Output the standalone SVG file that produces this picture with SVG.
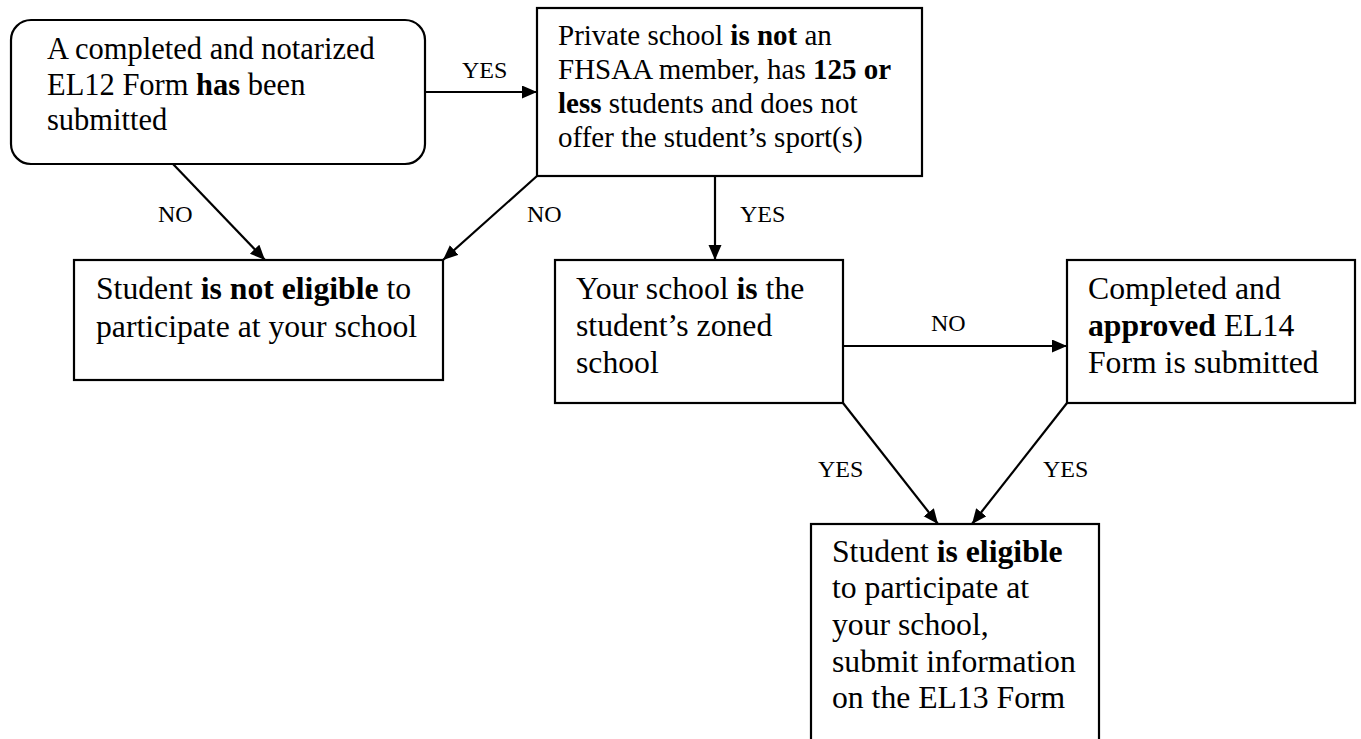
<svg xmlns="http://www.w3.org/2000/svg" width="1361" height="739" viewBox="0 0 1361 739">
<defs>
<style>
.box{fill:#fff;stroke:#000;stroke-width:2.2}
.t{font-family:"Liberation Serif","Times New Roman",serif;fill:#000}
.t1{font-size:30.5px}
.t2{font-size:29px}
.t3{font-size:31.7px}
.lbl{font-family:"Liberation Serif","Times New Roman",serif;font-size:24px;fill:#000}
.b{font-weight:bold}
.c{stroke:#000;stroke-width:2.2;fill:none;marker-end:url(#ah)}
</style>
<marker id="ah" markerUnits="userSpaceOnUse" markerWidth="16" markerHeight="14" refX="15" refY="6.5" orient="auto">
<path d="M0,0 L15,6.5 L0,13 z" fill="#000"/>
</marker>
</defs>
<rect width="1361" height="739" fill="#fff"/>
<g id="connectors">
<line class="c" x1="425" y1="92" x2="537" y2="92"/>
<line class="c" x1="173" y1="164" x2="265" y2="260"/>
<line class="c" x1="537" y1="176" x2="443" y2="260"/>
<line class="c" x1="715" y1="176" x2="715" y2="260"/>
<line class="c" x1="843" y1="346" x2="1067" y2="346"/>
<line class="c" x1="843" y1="403" x2="938" y2="524"/>
<line class="c" x1="1067" y1="403" x2="972" y2="524"/>
<text class="lbl" x="462" y="78">YES</text>
<text class="lbl" x="158" y="222">NO</text>
<text class="lbl" x="527" y="222">NO</text>
<text class="lbl" x="740" y="222">YES</text>
<text class="lbl" x="931" y="331">NO</text>
<text class="lbl" x="818" y="477">YES</text>
<text class="lbl" x="1043" y="477">YES</text>
</g>
<g id="n1">
<rect class="box" x="11" y="20" width="414" height="144" rx="20"/>
<text class="t t1" x="47" y="59">A completed and notarized</text>
<text class="t t1" x="47" y="95">EL12 Form <tspan class="b">has</tspan> been</text>
<text class="t t1" x="47" y="130">submitted</text>
</g>
<g id="n2">
<rect class="box" x="537" y="8" width="385" height="168"/>
<text class="t t2" x="558" y="45">Private school <tspan class="b">is not</tspan> an</text>
<text class="t t2" x="558" y="79">FHSAA member, has <tspan class="b">125 or</tspan></text>
<text class="t t2" x="558" y="113"><tspan class="b">less</tspan> students and does not</text>
<text class="t t2" x="558" y="147">offer the student’s sport(s)</text>
</g>
<g id="n3">
<rect class="box" x="74" y="260" width="369" height="120"/>
<text class="t t3" x="96" y="299">Student <tspan class="b">is not eligible</tspan> to</text>
<text class="t t3" x="96" y="337">participate at your school</text>
</g>
<g id="n4">
<rect class="box" x="555" y="260" width="288" height="143"/>
<text class="t t3" x="576" y="299">Your school <tspan class="b">is</tspan> the</text>
<text class="t t3" x="576" y="336">student’s zoned</text>
<text class="t t3" x="576" y="373">school</text>
</g>
<g id="n5">
<rect class="box" x="1067" y="260" width="288" height="143"/>
<text class="t t3" x="1088" y="299">Completed and</text>
<text class="t t3" x="1088" y="336"><tspan class="b">approved</tspan> EL14</text>
<text class="t t3" x="1088" y="373">Form is submitted</text>
</g>
<g id="n6">
<rect class="box" x="811" y="524" width="288" height="240"/>
<text class="t t3" x="832" y="562">Student <tspan class="b">is eligible</tspan></text>
<text class="t t3" x="832" y="598">to participate at</text>
<text class="t t3" x="832" y="635">your school,</text>
<text class="t t3" x="832" y="672">submit information</text>
<text class="t t3" x="832" y="708">on the EL13 Form</text>
</g>
</svg>
